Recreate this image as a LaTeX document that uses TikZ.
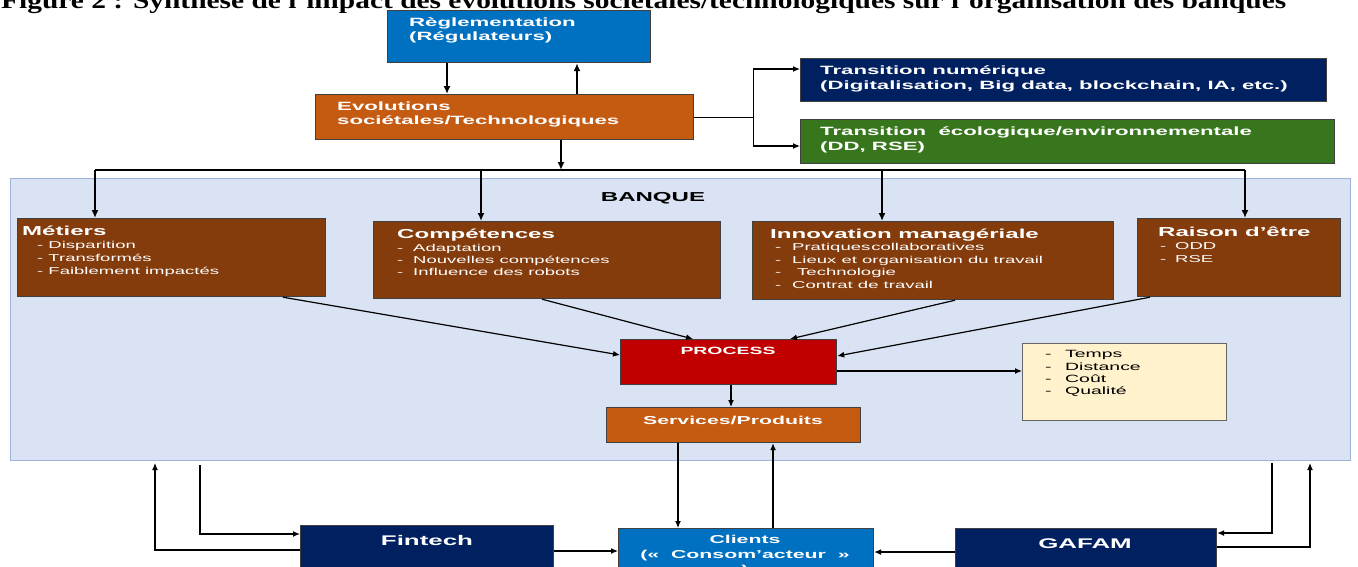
\documentclass[tikz,border=0pt]{standalone}
\usepackage{fontspec}
\usepackage{graphicx}
\setmainfont{Liberation Sans}[FakeStretch=1.85]
\newfontfamily\titlefont{Liberation Serif}[FakeStretch=1.85]
\usetikzlibrary{arrows.meta,calc}
\definecolor{regblue}{HTML}{0070C0}
\definecolor{evoorange}{HTML}{C55A11}
\definecolor{navy}{HTML}{002060}
\definecolor{ecogreen}{HTML}{38761D}
\definecolor{brownbox}{HTML}{843C0C}
\definecolor{procred}{HTML}{C00000}
\definecolor{cream}{HTML}{FFF2CC}
\definecolor{bankfill}{HTML}{DAE3F3}
\definecolor{bankline}{HTML}{9DB4D8}
\begin{document}
\begin{tikzpicture}[x=1pt,y=-1pt,
  box/.style={draw=black!75,line width=1.2pt,inner sep=0pt,anchor=north west},
  tb/.style={inner sep=0pt,anchor=base west,text=white,font=\bfseries\fontsize{12}{14}\selectfont},
  ttl/.style={inner sep=0pt,anchor=base west,text=white,font=\bfseries\fontsize{13}{15}\selectfont},
  itm/.style={inner sep=0pt,anchor=base west,text=white,font=\fontsize{10}{12}\selectfont},
  blk/.style={inner sep=0pt,anchor=base west,text=black,font=\fontsize{10.5}{12}\selectfont},
  ctr/.style={inner sep=0pt,anchor=base,text=white,font=\bfseries\fontsize{12}{14}\selectfont},
  arrA/.style={-{Latex[length=8pt,width=7pt]},line width=1.7pt},
  arrB/.style={-{Latex[length=7pt,width=6pt]},line width=1.2pt},
  lnA/.style={line width=1.7pt},
  lnB/.style={line width=1.2pt}]
\useasboundingbox (0,0) rectangle (1358,566);
\clip (0,0) rectangle (1358,566);

% title (cut at the top)
\node[inner sep=0pt,anchor=base west] (title) at (1,8)
  {\resizebox{1285pt}{1.6\height}{\titlefont\bfseries\fontsize{14.7}{16}\selectfont Figure 2 : Synthèse de l’impact des évolutions sociétales/technologiques sur l’organisation des banques}};

% bank background
\node[draw=bankline,fill=bankfill,line width=1pt,inner sep=0pt,anchor=north west,minimum width=1340pt,minimum height=282pt] (bank) at (10,178) {};
\node[inner sep=0pt,anchor=base,font=\bfseries\fontsize{13}{15}\selectfont] (bankt) at (653,201) {BANQUE};

% top boxes
\node[box,fill=regblue,minimum width=263pt,minimum height=52pt] (reg) at (387,10) {};
\node[tb] (reg1) at (409,26) {Règlementation};
\node[tb] (reg2) at (409,40) {(Régulateurs)};

\node[box,fill=evoorange,minimum width=378pt,minimum height=45pt] (evo) at (315,94) {};
\node[tb] (evo1) at (337,110) {Evolutions};
\node[tb] (evo2) at (337,124) {sociétales/Technologiques};

\node[box,fill=navy,minimum width=526pt,minimum height=43pt] (tn) at (800,58) {};
\node[tb] (tn1) at (820,74) {Transition numérique};
\node[tb] (tn2) at (820,89) {(Digitalisation, Big data, blockchain, IA, etc.)};

\node[box,fill=ecogreen,minimum width=534pt,minimum height=44pt] (te) at (800,119) {};
\node[tb] (te1) at (820,135) {Transition\ \ écologique/environnementale};
\node[tb] (te2) at (820,150) {(DD, RSE)};

% four brown boxes
\node[box,fill=brownbox,minimum width=308pt,minimum height=78pt] (met) at (17,218) {};
\node[ttl] (met0) at (22,235) {Métiers};
\node[itm] (met1) at (37,248) {- Disparition};
\node[itm] (met2) at (37,261) {- Transformés};
\node[itm] (met3) at (37,274) {- Faiblement impactés};

\node[box,fill=brownbox,minimum width=347pt,minimum height=77pt] (comp) at (373,221) {};
\node[ttl] (comp0) at (397,238) {Compétences};
\node[itm] (comp1) at (397,251) {\makebox[16pt][l]{-}Adaptation};
\node[itm] (comp2) at (397,263) {\makebox[16pt][l]{-}Nouvelles compétences};
\node[itm] (comp3) at (397,275) {\makebox[16pt][l]{-}Influence des robots};

\node[box,fill=brownbox,minimum width=361pt,minimum height=78pt] (inn) at (752,221) {};
\node[ttl] (inn0) at (770,238) {Innovation managériale};
\node[itm] (inn1) at (775,250) {\makebox[17pt][l]{-}Pratiques\hspace{1pt}collaboratives};
\node[itm] (inn2) at (775,263) {\makebox[17pt][l]{-}Lieux et organisation du travail};
\node[itm] (inn3) at (775,275) {\makebox[22pt][l]{-}Technologie};
\node[itm] (inn4) at (775,288) {\makebox[17pt][l]{-}Contrat de travail};

\node[box,fill=brownbox,minimum width=203pt,minimum height=78pt] (rai) at (1137,218) {};
\node[ttl] (rai0) at (1158,236) {Raison d’être};
\node[itm] (rai1) at (1160,249) {\makebox[15pt][l]{-}ODD};
\node[itm] (rai2) at (1160,262) {\makebox[15pt][l]{-}RSE};

% process and outputs
\node[box,fill=procred,minimum width=216pt,minimum height=45pt] (proc) at (620,339) {};
\node[ctr,font=\bfseries\fontsize{10.5}{12}\selectfont] (proct) at (728,354) {PROCESS};

\node[box,fill=evoorange,minimum width=254pt,minimum height=35pt] (serv) at (606,407) {};
\node[ctr,font=\bfseries\fontsize{11.5}{13}\selectfont] (servt) at (733,424) {Services/Produits};

\node[box,fill=cream,draw=black!60,minimum width=204pt,minimum height=77pt] (tmp) at (1022,343) {};
\node[blk] (tmp1) at (1045,357) {\makebox[20pt][l]{-}Temps};
\node[blk] (tmp2) at (1045,370) {\makebox[20pt][l]{-}Distance};
\node[blk] (tmp3) at (1045,382) {\makebox[20pt][l]{-}Coût};
\node[blk] (tmp4) at (1045,394) {\makebox[20pt][l]{-}Qualité};

% bottom boxes
\node[box,fill=navy,minimum width=253pt,minimum height=60pt] (fin) at (300,525) {};
\node[ctr,font=\bfseries\fontsize{14}{16}\selectfont] (fint) at (427,545) {Fintech};

\node[box,fill=regblue,minimum width=255pt,minimum height=60pt] (cli) at (618,528) {};
\node[ctr,font=\bfseries\fontsize{11.5}{13}\selectfont] (cli1) at (745,543) {Clients};
\node[ctr,font=\bfseries\fontsize{11.5}{13}\selectfont] (cli2) at (745,558) {(«\ \ Consom’acteur\ \ »};
\node[ctr,font=\bfseries\fontsize{11.5}{13}\selectfont] (cli3) at (745,573) {)};

\node[box,fill=navy,minimum width=261pt,minimum height=60pt] (gaf) at (955,528) {};
\node[ctr,font=\bfseries\fontsize{14}{16}\selectfont] (gaft) at (1085,548) {GAFAM};

% connectors: top
\draw[arrA] ($(reg.south west)+(60,0)$) -- ($(evo.north west)+(132,0)$);
\draw[arrA] ($(evo.north west)+(262,0)$) -- ($(reg.south west)+(190,0)$);

\coordinate (br) at ($(evo.east)+(59,0)$);
\draw[lnB] (evo.east) -- (br);
\draw[arrB] (br) |- ($(tn.north west)+(0,11)$);
\draw[arrB] (br) |- ($(te.north west)+(0,27)$);

\coordinate (busL) at (95,170);
\coordinate (busC) at (481,170);
\coordinate (busM) at (561,170);
\coordinate (busI) at (882,170);
\coordinate (busR) at (1245,170);
\draw[lnA] (busL) -- (busR);
\draw[arrA] ($(evo.south west)+(246,0)$) -- (busM);
\draw[arrA] (busL) -- (busL |- met.north);
\draw[arrA] (busC) -- (busC |- comp.north);
\draw[arrA] (busI) -- (busI |- inn.north);
\draw[arrA] (busR) -- (busR |- rai.north);

% into process
\draw[arrB] ($(met.south west)+(266,0)$) -- ($(proc.north west)+(0,16)$);
\draw[arrB] ($(comp.south west)+(169,0)$) -- ($(proc.north west)+(73,0)$);
\draw[arrB] ($(inn.south west)+(203,0)$) -- ($(proc.north west)+(170,0)$);
\draw[arrB] ($(rai.south west)+(13,0)$) -- ($(proc.north east)+(0,17)$);
\draw[arrB] ($(proc.north east)+(0,32)$) -- ($(tmp.north west)+(0,28)$);
\draw[arrB] ($(proc.south west)+(111,0)$) -- ($(serv.north west)+(125,0)$);

% services <-> clients
\draw[arrB] ($(serv.south west)+(72,0)$) -- ($(cli.north west)+(60,0)$);
\draw[arrB] ($(cli.north west)+(155,0)$) -- ($(serv.south west)+(167,0)$);

% fintech
\draw[arrB] ($(bank.south west)+(190,4)$) |- ($(fin.north west)+(0,9)$);
\draw[arrB] ($(fin.north west)+(0,25)$) -| ($(bank.south west)+(145,2)$);
\draw[arrB] ($(fin.north east)+(0,26)$) -- ($(cli.north west)+(0,23)$);

% gafam
\draw[arrB] ($(bank.south west)+(1262,2)$) |- ($(gaf.north east)+(0,5)$);
\draw[arrB] ($(gaf.north east)+(0,19)$) -| ($(bank.south west)+(1300,2)$);
\draw[arrB] ($(gaf.north west)+(0,24)$) -- ($(cli.north east)+(0,24)$);
\end{tikzpicture}
\end{document}
